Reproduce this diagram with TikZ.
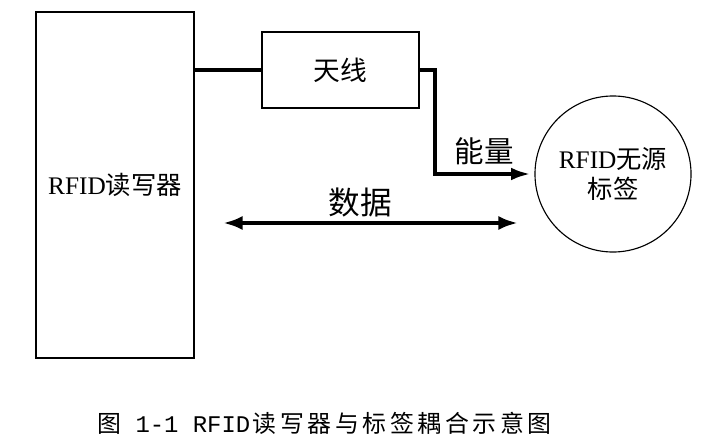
\documentclass[tikz,border=0pt]{standalone}
\usepackage{fontspec}
\setmainfont{Liberation Serif}
\newfontfamily\cjk{Noto Sans CJK SC}
\newfontfamily\capcjk[LetterSpace=15]{Noto Sans CJK SC}
\newfontfamily\capmono{Liberation Mono}
\usetikzlibrary{arrows.meta}
\begin{document}
\begin{tikzpicture}[x=0.025cm,y=-0.025cm,
    box/.style={draw,line width=0.8pt,inner sep=0pt,outer sep=0pt},
    link/.style={line width=2.8pt},
    tip/.style={-{Latex[length=14pt,width=9pt]}},
    twotips/.style={{Latex[length=14pt,width=10pt]}-{Latex[length=14pt,width=10pt]}},
    txt/.style={font=\fontsize{18pt}{21pt}\selectfont},
    big/.style={font=\fontsize{21pt}{24pt}\selectfont}]
\useasboundingbox (0,0) rectangle (715,447);

\node[box,txt,minimum width=3.95cm,minimum height=8.65cm] (reader) at (115,185) {RFID{\cjk 读写器}};
\node[box,font=\fontsize{19pt}{22pt}\selectfont,minimum width=3.925cm,minimum height=1.9cm] (ant) at (340.5,70) {\cjk 天线};
\node[box,circle,txt,minimum size=3.9cm,align=center] (tag) at (613,174) {RFID{\cjk 无源}\\[0pt]{\cjk 标签}};

\draw[link] (reader.east |- ant.west) -- (ant.west);
\draw[link,tip,shorten >=3pt] (ant.east) -- ++(16,0) |- (tag.west);
\node[big] (energy) at (484,151) {\cjk 能量};

\coordinate (dl) at (223,223);
\coordinate (dr) at (518,223);
\draw[link,twotips] (dl) -- (dr);
\node[big,font=\fontsize{22.5pt}{25pt}\selectfont] (data) at (360,203) {\cjk 数据};

\node[anchor=west,inner sep=0pt,font=\fontsize{17pt}{20pt}\selectfont] (caption) at (97,423)
    {\capcjk 图\hspace{0.6em}{\capmono 1-1 RFID}\hspace{0.1em}读写器与标签耦合示意图};
\end{tikzpicture}
\end{document}
